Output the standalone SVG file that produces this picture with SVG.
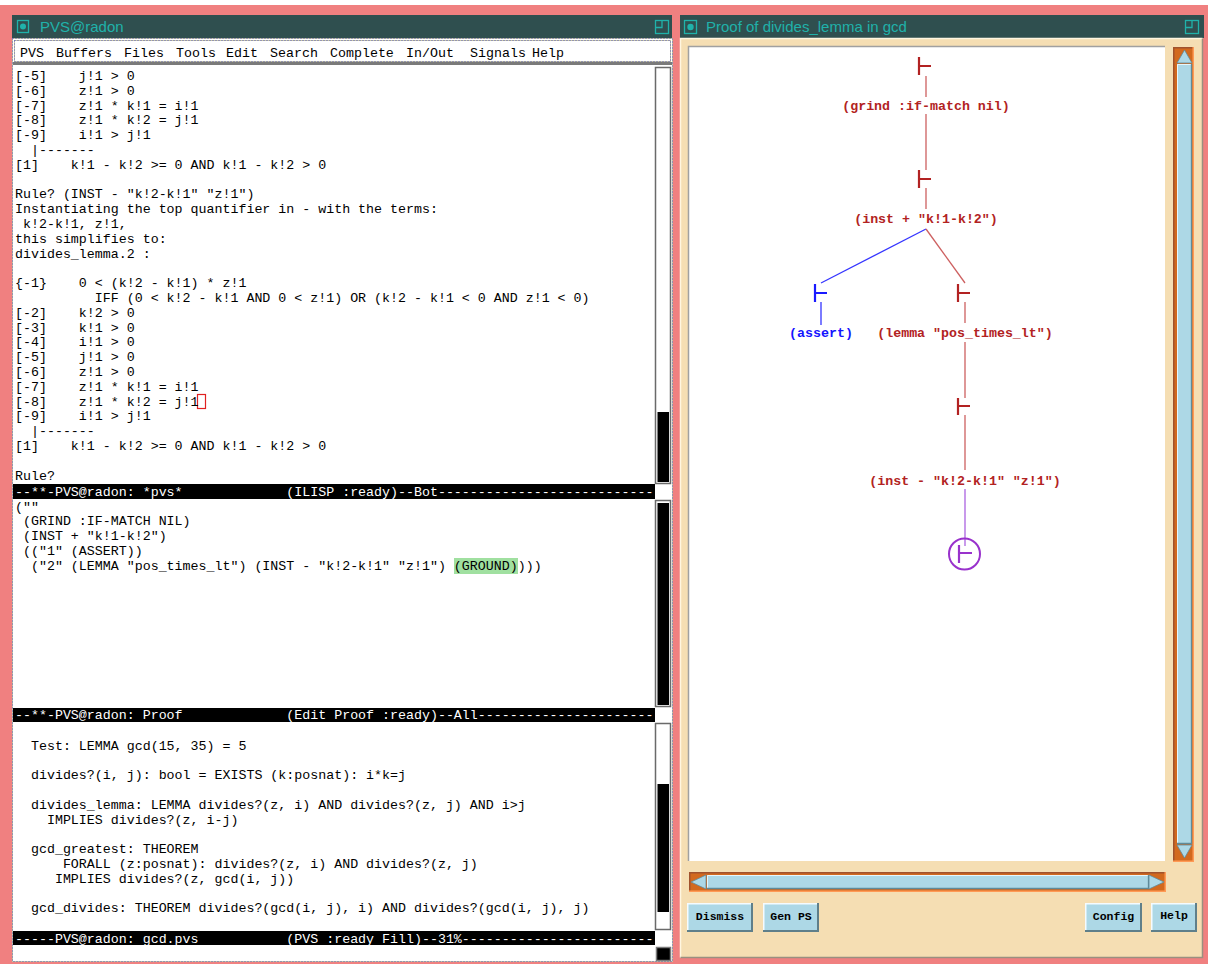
<svg xmlns="http://www.w3.org/2000/svg" width="1208" height="964" viewBox="0 0 1208 964">
<defs>
<style>
.mono{font-family:"Liberation Mono","DejaVu Sans Mono",monospace;font-size:13.3px;fill:#000;white-space:pre}
.modet{font-family:"Liberation Mono","DejaVu Sans Mono",monospace;font-size:13.3px;fill:#fff;white-space:pre}
.menu{font-family:"Liberation Mono","DejaVu Sans Mono",monospace;font-size:13.3px;fill:#000}
.title{font-family:"Liberation Sans",Arial,sans-serif;font-size:15px;fill:#20b2aa}
.lbl{font-family:"Liberation Mono","DejaVu Sans Mono",monospace;font-weight:bold;font-size:13.3px;text-anchor:middle;white-space:pre}
.red{fill:#b22222}
.blue{fill:#1414ff}
.ts{fill:none;stroke-width:2.2}
.tsr{stroke:#b22222}
.tsb{stroke:#1a1aff}
.tsp{stroke:#9932cc}
.cr{stroke:#cd6060;stroke-width:1.3;fill:none}
.cb{stroke:#3535ff;stroke-width:1.3;fill:none}
.cp{stroke:#bb80e6;stroke-width:1.6;fill:none}
.btn{fill:#add8e6}
.btnt{font-family:"Liberation Mono","DejaVu Sans Mono",monospace;font-weight:bold;font-size:11.5px;text-anchor:middle;fill:#000}
.sb{fill:#fff;stroke:#6a6a6a;stroke-width:1.5}
</style>
</defs>

<!-- background -->
<rect width="1208" height="964" fill="#f08080"/>
<rect width="1208" height="5" fill="#fff"/>

<!-- ============ LEFT WINDOW (Emacs) ============ -->
<g id="emacs-window">
  <rect x="12" y="15" width="660" height="23" fill="#2f4f4f"/>
  <rect x="17.5" y="20.5" width="11" height="12" fill="none" stroke="#20b2aa" stroke-width="1.3"/>
  <circle cx="23" cy="26.5" r="3" fill="#20b2aa"/>
  <text class="title" x="40" y="32">PVS@radon</text>
  <rect x="655.5" y="20.5" width="13" height="13" fill="none" stroke="#20b2aa" stroke-width="1.3"/>
  <path d="M655.5 27.5 H662 V20.5" fill="none" stroke="#20b2aa" stroke-width="1.3"/>

  <rect x="12" y="38" width="661" height="924" fill="#fff"/>
  <rect x="12.5" y="38.5" width="660" height="923" fill="none" stroke="#c8c8a0" stroke-width="1"/>
  <rect x="12.5" y="38.5" width="660" height="923" fill="none" stroke="#6060c0" stroke-width="1" stroke-dasharray="1 2"/>

  <!-- menu bar -->
  <rect x="14.5" y="40.5" width="656" height="21" fill="none" stroke="#c8c8a0" stroke-width="1"/>
  <rect x="14.5" y="40.5" width="656" height="21" fill="none" stroke="#6060c0" stroke-width="1" stroke-dasharray="1 2"/>
  <g id="menu">
    <text class="menu" x="20" y="56.5">PVS</text>
    <text class="menu" x="56" y="56.5">Buffers</text>
    <text class="menu" x="124" y="56.5">Files</text>
    <text class="menu" x="176" y="56.5">Tools</text>
    <text class="menu" x="226" y="56.5">Edit</text>
    <text class="menu" x="270" y="56.5">Search</text>
    <text class="menu" x="330" y="56.5">Complete</text>
    <text class="menu" x="406" y="56.5">In/Out</text>
    <text class="menu" x="470" y="56.5">Signals</text>
    <text class="menu" x="532" y="56.5">Help</text>
  </g>
  <rect x="13" y="62" width="659" height="3" fill="#7a7a7a"/>

  <!-- area 1 -->
  <rect x="655.5" y="67.5" width="15" height="416" class="sb"/>
  <rect x="657.5" y="412" width="11.5" height="70" fill="#000"/>
  <rect x="197.5" y="394.5" width="8" height="14" fill="none" stroke="#e02020" stroke-width="1.2"/>
  <g id="proof-buffer" xml:space="preserve">
    <text class="mono" x="15" y="80">[-5]    j!1 &gt; 0</text>
    <text class="mono" x="15" y="94.8">[-6]    z!1 &gt; 0</text>
    <text class="mono" x="15" y="109.6">[-7]    z!1 * k!1 = i!1</text>
    <text class="mono" x="15" y="124.4">[-8]    z!1 * k!2 = j!1</text>
    <text class="mono" x="15" y="139.2">[-9]    i!1 &gt; j!1</text>
    <text class="mono" x="15" y="154">  |-------</text>
    <text class="mono" x="15" y="168.8">[1]    k!1 - k!2 &gt;= 0 AND k!1 - k!2 &gt; 0</text>
    <text class="mono" x="15" y="198.4">Rule? (INST - "k!2-k!1" "z!1")</text>
    <text class="mono" x="15" y="213.2">Instantiating the top quantifier in - with the terms:</text>
    <text class="mono" x="15" y="228"> k!2-k!1, z!1,</text>
    <text class="mono" x="15" y="242.8">this simplifies to:</text>
    <text class="mono" x="15" y="257.6">divides_lemma.2 :</text>
    <text class="mono" x="15" y="287.2">{-1}    0 &lt; (k!2 - k!1) * z!1</text>
    <text class="mono" x="15" y="302">          IFF (0 &lt; k!2 - k!1 AND 0 &lt; z!1) OR (k!2 - k!1 &lt; 0 AND z!1 &lt; 0)</text>
    <text class="mono" x="15" y="316.8">[-2]    k!2 &gt; 0</text>
    <text class="mono" x="15" y="331.6">[-3]    k!1 &gt; 0</text>
    <text class="mono" x="15" y="346.4">[-4]    i!1 &gt; 0</text>
    <text class="mono" x="15" y="361.2">[-5]    j!1 &gt; 0</text>
    <text class="mono" x="15" y="376">[-6]    z!1 &gt; 0</text>
    <text class="mono" x="15" y="390.8">[-7]    z!1 * k!1 = i!1</text>
    <text class="mono" x="15" y="405.6">[-8]    z!1 * k!2 = j!1</text>
    <text class="mono" x="15" y="420.4">[-9]    i!1 &gt; j!1</text>
    <text class="mono" x="15" y="435.2">  |-------</text>
    <text class="mono" x="15" y="450">[1]    k!1 - k!2 &gt;= 0 AND k!1 - k!2 &gt; 0</text>
    <text class="mono" x="15" y="479.6">Rule?</text>
  </g>

  <!-- mode line 1 -->
  <rect x="13" y="484" width="642" height="15" fill="#000"/>
  <text class="modet" x="15" y="495.5" xml:space="preserve">--**-PVS@radon: *pvs*             (ILISP :ready)--Bot---------------------------</text>

  <!-- area 2 -->
  <rect x="655.5" y="500.5" width="15" height="206" class="sb"/>
  <rect x="657.5" y="503" width="11.5" height="202" fill="#000"/>
  <rect x="454" y="558" width="64" height="16" fill="#a0e0a0"/>
  <g id="pvs-buffer" xml:space="preserve">
    <text class="mono" x="15" y="510.5">(""</text>
    <text class="mono" x="15" y="525.3"> (GRIND :IF-MATCH NIL)</text>
    <text class="mono" x="15" y="540.1"> (INST + "k!1-k!2")</text>
    <text class="mono" x="15" y="554.9"> (("1" (ASSERT))</text>
    <text class="mono" x="15" y="569.7">  ("2" (LEMMA "pos_times_lt") (INST - "k!2-k!1" "z!1") (GROUND))))</text>
  </g>

  <!-- mode line 2 -->
  <rect x="13" y="708" width="642" height="14" fill="#000"/>
  <text class="modet" x="15" y="719" xml:space="preserve">--**-PVS@radon: Proof             (Edit Proof :ready)--All----------------------</text>

  <!-- area 3 -->
  <rect x="655.5" y="723.5" width="15" height="206" class="sb"/>
  <rect x="657.5" y="784" width="11.5" height="128" fill="#000"/>
  <g id="gcd-buffer" xml:space="preserve">
    <text class="mono" x="15" y="749.5">  Test: LEMMA gcd(15, 35) = 5</text>
    <text class="mono" x="15" y="779.1">  divides?(i, j): bool = EXISTS (k:posnat): i*k=j</text>
    <text class="mono" x="15" y="808.7">  divides_lemma: LEMMA divides?(z, i) AND divides?(z, j) AND i&gt;j</text>
    <text class="mono" x="15" y="823.5">    IMPLIES divides?(z, i-j)</text>
    <text class="mono" x="15" y="853.1">  gcd_greatest: THEOREM</text>
    <text class="mono" x="15" y="867.9">      FORALL (z:posnat): divides?(z, i) AND divides?(z, j)</text>
    <text class="mono" x="15" y="882.7">     IMPLIES divides?(z, gcd(i, j))</text>
    <text class="mono" x="15" y="912.3">  gcd_divides: THEOREM divides?(gcd(i, j), i) AND divides?(gcd(i, j), j)</text>
  </g>

  <!-- mode line 3 -->
  <rect x="13" y="931" width="642" height="14" fill="#000"/>
  <text class="modet" x="15" y="942.5" xml:space="preserve">-----PVS@radon: gcd.pvs           (PVS :ready Fill)--31%------------------------</text>

  <!-- minibuffer box -->
  <rect x="656.5" y="947.5" width="14" height="13" fill="#000" stroke="#7a7a7a" stroke-width="1.5"/>
</g>

<!-- ============ RIGHT WINDOW (proof tree) ============ -->
<g id="prooftree-window">
  <rect x="680" y="15" width="524" height="23" fill="#2f4f4f"/>
  <rect x="684.5" y="20.5" width="12" height="13" fill="none" stroke="#20b2aa" stroke-width="1.3"/>
  <circle cx="690.5" cy="27" r="3.2" fill="#20b2aa"/>
  <text class="title" x="706" y="32">Proof of divides_lemma in gcd</text>
  <rect x="1185.5" y="20.5" width="13" height="13" fill="none" stroke="#20b2aa" stroke-width="1.3"/>
  <path d="M1185.5 27.5 H1192 V20.5" fill="none" stroke="#20b2aa" stroke-width="1.3"/>

  <rect x="680" y="38" width="523" height="920" fill="#f5deb3"/>
  <path d="M680.5 957.5 V38.5 H1202.5" fill="none" stroke="#fff6e0" stroke-width="1.5"/>
  <path d="M680.5 957.5 H1202.5 V38.5" fill="none" stroke="#9a9080" stroke-width="1.5"/>

  <!-- canvas -->
  <rect x="688" y="46" width="477" height="815" fill="#fff"/>
  <path d="M688.5 861 V46.5 H1165" fill="none" stroke="#a0a0a0" stroke-width="1.5"/>

  <!-- vertical scrollbar -->
  <rect x="1173" y="47" width="21" height="815" fill="#d2691e"/>
  <path d="M1173.75 862 V47.75 H1194" fill="none" stroke="#a0522d" stroke-width="1.5"/>
  <path d="M1173 861.25 H1193.25 V47" fill="none" stroke="#ff9a55" stroke-width="1.5"/>
  <rect x="1177" y="64" width="15" height="780" fill="#add8e6"/>
  <path d="M1177.5 844 V64.5 H1191" fill="none" stroke="#e6f6fb" stroke-width="1"/>
  <path d="M1177 843.5 H1191.5 V64" fill="none" stroke="#5f8a99" stroke-width="1.3"/>
  <polygon points="1184.5,50 1177,63 1192,63" fill="#add8e6" stroke="#5f8a99" stroke-width="0.8"/>
  <polygon points="1177,845 1192,845 1184.5,858" fill="#add8e6" stroke="#5f8a99" stroke-width="0.8"/>

  <!-- horizontal scrollbar -->
  <rect x="689" y="872" width="477" height="20" fill="#d2691e"/>
  <path d="M689.75 892 V872.75 H1166" fill="none" stroke="#a0522d" stroke-width="1.5"/>
  <path d="M689 891.25 H1165.25 V872" fill="none" stroke="#ff9a55" stroke-width="1.5"/>
  <rect x="707" y="875" width="442" height="14" fill="#add8e6"/>
  <path d="M707.5 889 V875.5 H1149" fill="none" stroke="#e6f6fb" stroke-width="1"/>
  <path d="M707 888.5 H1148.5 V875" fill="none" stroke="#5f8a99" stroke-width="1.3"/>
  <polygon points="691,882 706,875 706,889" fill="#add8e6" stroke="#5f8a99" stroke-width="0.8"/>
  <polygon points="1149,875 1149,889 1164,882" fill="#add8e6" stroke="#5f8a99" stroke-width="0.8"/>

  <!-- buttons -->
  <g id="btn-dismiss">
    <rect class="btn" x="687" y="903" width="66" height="29"/>
    <path d="M687.75 932 V903.75 H753" fill="none" stroke="#f4fbff" stroke-width="1.5"/>
    <path d="M687 931 H752 V903" fill="none" stroke="#5f7f8a" stroke-width="2"/>
    <text class="btnt" x="720" y="920">Dismiss</text>
  </g>
  <g id="btn-genps">
    <rect class="btn" x="763" y="903" width="56" height="29"/>
    <path d="M763.75 932 V903.75 H819" fill="none" stroke="#f4fbff" stroke-width="1.5"/>
    <path d="M763 931 H818 V903" fill="none" stroke="#5f7f8a" stroke-width="2"/>
    <text class="btnt" x="791" y="920">Gen PS</text>
  </g>
  <g id="btn-config">
    <rect class="btn" x="1085" y="903" width="57" height="29"/>
    <path d="M1085.75 932 V903.75 H1142" fill="none" stroke="#f4fbff" stroke-width="1.5"/>
    <path d="M1085 931 H1141 V903" fill="none" stroke="#5f7f8a" stroke-width="2"/>
    <text class="btnt" x="1113.5" y="920">Config</text>
  </g>
  <g id="btn-help">
    <rect class="btn" x="1151" y="903" width="46" height="29"/>
    <path d="M1151.75 932 V903.75 H1197" fill="none" stroke="#f4fbff" stroke-width="1.5"/>
    <path d="M1151 931 H1196 V903" fill="none" stroke="#5f7f8a" stroke-width="2"/>
    <text class="btnt" x="1174" y="919">Help</text>
  </g>
</g>

<!-- ============ PROOF TREE ============ -->
<g id="connectors">
  <path class="cr" d="M926 76 V97"/>
  <path class="cr" d="M926 114 V170"/>
  <path class="cr" d="M926 188 V209"/>
  <path class="cb" d="M926 229 L821 283"/>
  <path class="cr" d="M926 229 L965 283"/>
  <path class="cb" d="M821 302 V325"/>
  <path class="cr" d="M965 302 V323"/>
  <path class="cr" d="M965 342 V398"/>
  <path class="cr" d="M965 415 V470"/>
  <path class="cp" d="M965 489 V546"/>
</g>

<g id="node-grind">
  <path class="ts tsr" d="M919 57 V75 M919 66 H931"/>
  <text class="lbl red" x="926" y="109.5">(grind :if-match nil)</text>
</g>
<g id="node-inst1">
  <path class="ts tsr" d="M919 170 V188 M919 179 H931"/>
  <text class="lbl red" x="926" y="223">(inst + "k!1-k!2")</text>
</g>
<g id="node-assert">
  <path class="ts tsb" d="M815 284 V302 M815 293 H827"/>
  <text class="lbl blue" x="821" y="337">(assert)</text>
</g>
<g id="node-lemma">
  <path class="ts tsr" d="M958 284 V302 M958 293 H970"/>
  <text class="lbl red" x="965" y="337">(lemma "pos_times_lt")</text>
</g>
<g id="node-inst2">
  <path class="ts tsr" d="M958 398 V415 M958 406 H970"/>
  <text class="lbl red" x="965" y="484.5">(inst - "k!2-k!1" "z!1")</text>
</g>
<g id="node-current">
  <circle cx="964.5" cy="554" r="15.5" fill="none" stroke="#9932cc" stroke-width="2"/>
  <path class="ts tsp" d="M959 545 V563 M959 553 H972"/>
</g>
</svg>
